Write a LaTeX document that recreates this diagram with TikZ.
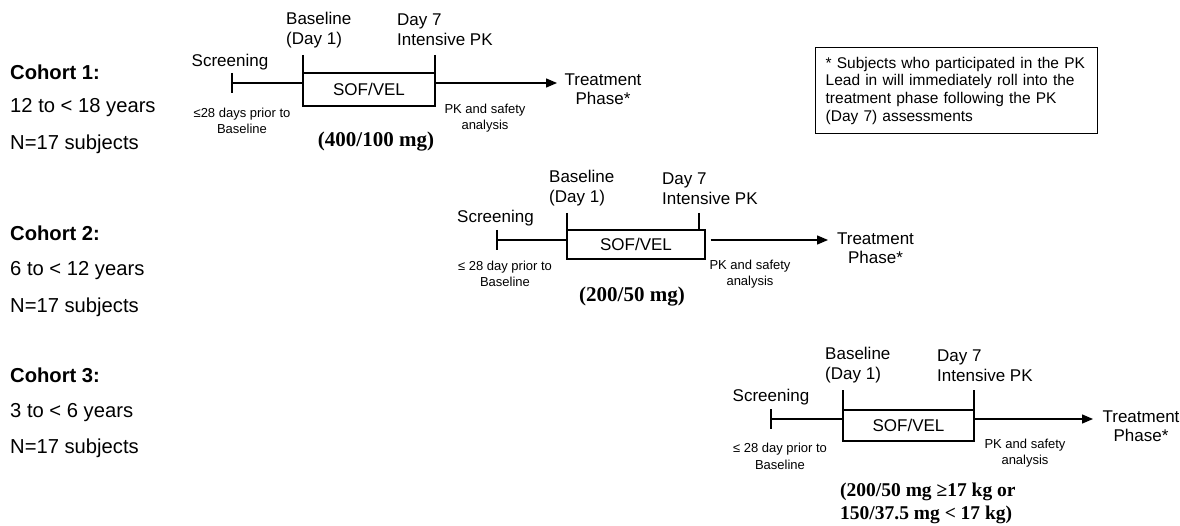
\documentclass[tikz,border=0pt]{standalone}
\usepackage{fontspec}
\setmainfont{Liberation Sans}
\newfontfamily\doseserif{Liberation Serif}
\usetikzlibrary{arrows.meta}
\tikzset{
  lbl/.style={inner sep=0pt, font=\fontsize{17}{20}\selectfont, align=left},
  small/.style={inner sep=0pt, font=\fontsize{13}{16.5}\selectfont, align=center},
  dose/.style={inner sep=0pt, font=\doseserif\bfseries\fontsize{21}{23}\selectfont},
  cohort/.style={inner sep=0pt, anchor=west, font=\bfseries\fontsize{20.2}{22}\selectfont},
  info/.style={inner sep=0pt, anchor=west, font=\fontsize{20.2}{22}\selectfont},
  drug/.style={draw, line width=1.3pt, inner sep=0pt, font=\fontsize{17}{20}\selectfont},
  ln/.style={line width=1.3pt},
  arr/.style={line width=1.3pt, -{Triangle[length=11pt,width=9pt]}},
  note/.style={draw, line width=1.3pt, inner xsep=10pt, inner ysep=0pt, text width=262pt,
    minimum height=86pt, align=left, font=\fontsize{15.5}{17.7}\selectfont}
}
\begin{document}
\begin{tikzpicture}[x=1pt,y=-1pt]
\useasboundingbox (0,0) rectangle (1180,526);

% left column
\node[cohort] (c1) at (10,72) {Cohort 1:};
\node[info] (c1a) at (10,108) {12 to < 18 years};
\node[info] (c1n) at (10,144) {N=17 subjects};
\node[cohort] (c2) at (10,233) {Cohort 2:};
\node[info] (c2a) at (10,271) {6 to < 12 years};
\node[info] (c2n) at (10,307) {N=17 subjects};
\node[cohort] (c3) at (10,375) {Cohort 3:};
\node[info] (c3a) at (10,413) {3 to < 6 years};
\node[info] (c3n) at (10,448) {N=17 subjects};

% note box
\node[note, anchor=north west] (nt) at (815,47) {* Subjects who participated in the PK\\Lead in will immediately roll into the\\treatment phase following the PK\\(Day 7) assessments};

% ---------- Cohort 1 ----------
\node[drug, minimum width=132pt, minimum height=33pt] (b1) at (369,89.5) {SOF/VEL};
\coordinate (s1) at (232,83);
\coordinate (e1) at (557,83);
\coordinate (bl1) at (303,55);
\coordinate (d71) at (435,55);
\draw[ln] ([yshift=10pt]s1) -- ([yshift=-10pt]s1);
\draw[ln] (s1) -- (s1 -| b1.west);
\draw[ln] (bl1) -- (bl1 |- b1.north);
\draw[ln] (d71) -- (d71 |- b1.north);
\draw[arr] (s1 -| b1.east) -- (e1);
\node[lbl] (sc1) at (230,62) {Screening};
\node[lbl, anchor=west] (ba1) at (286,30) {Baseline\\(Day 1)};
\node[lbl, anchor=west] (dy1) at (397,30) {Day 7\\Intensive PK};
\node[lbl, align=center, font=\fontsize{17}{19}\selectfont] (tp1) at (603,89.5) {Treatment\\Phase*};
\node[small] (pr1) at (242,121) {≤28 days prior to\\Baseline};
\node[small] (pk1) at (485,118) {PK and safety\\analysis};
\node[dose] (do1) at (376,142) {(400/100 mg)};

% ---------- Cohort 2 ----------
\node[drug, minimum width=138pt, minimum height=29pt] (b2) at (636,244.5) {SOF/VEL};
\coordinate (s2) at (497,240);
\coordinate (e2) at (828,240);
\coordinate (bl2) at (567,213);
\coordinate (d72) at (699,213);
\draw[ln] ([yshift=10pt]s2) -- ([yshift=-10pt]s2);
\draw[ln] (s2) -- (s2 -| b2.west);
\draw[ln] (bl2) -- (bl2 |- b2.north);
\draw[ln] (d72) -- (d72 |- b2.north);
\draw[arr] ([xshift=5pt]s2 -| b2.east) -- (e2);
\node[lbl] (sc2) at (495.5,218) {Screening};
\node[lbl, anchor=west] (ba2) at (549,188.5) {Baseline\\(Day 1)};
\node[lbl, anchor=west] (dy2) at (662,188.5) {Day 7\\Intensive PK};
\node[lbl, align=center, font=\fontsize{17}{19}\selectfont] (tp2) at (875.5,248.5) {Treatment\\Phase*};
\node[small] (pr2) at (505,274) {≤ 28 day prior to\\Baseline};
\node[small] (pk2) at (750,274) {PK and safety\\analysis};
\node[dose] (do2) at (632,297) {(200/50 mg)};

% ---------- Cohort 3 ----------
\node[drug, minimum width=131pt, minimum height=31pt] (b3) at (908.5,425.5) {SOF/VEL};
\coordinate (s3) at (771,419);
\coordinate (e3) at (1093,419);
\coordinate (bl3) at (843,390);
\coordinate (d73) at (974,390);
\draw[ln] ([yshift=10pt]s3) -- ([yshift=-10pt]s3);
\draw[ln] (s3) -- (s3 -| b3.west);
\draw[ln] (bl3) -- (bl3 |- b3.north);
\draw[ln] (d73) -- (d73 |- b3.north);
\draw[arr] (s3 -| b3.east) -- (e3);
\node[lbl] (sc3) at (771,397) {Screening};
\node[lbl, anchor=west] (ba3) at (825,365.5) {Baseline\\(Day 1)};
\node[lbl, anchor=west] (dy3) at (937,365.5) {Day 7\\Intensive PK};
\node[lbl, align=center, font=\fontsize{17}{19}\selectfont] (tp3) at (1141,426) {Treatment\\Phase*};
\node[small] (pr3) at (780,456.5) {≤ 28 day prior to\\Baseline};
\node[small] (pk3) at (1025,453) {PK and safety\\analysis};
\node[dose, anchor=west, align=left, font=\doseserif\bfseries\fontsize{19.5}{23}\selectfont] (do3) at (840,503.5) {(200/50 mg ≥17 kg or\\150/37.5 mg < 17 kg)};
\end{tikzpicture}
\end{document}
